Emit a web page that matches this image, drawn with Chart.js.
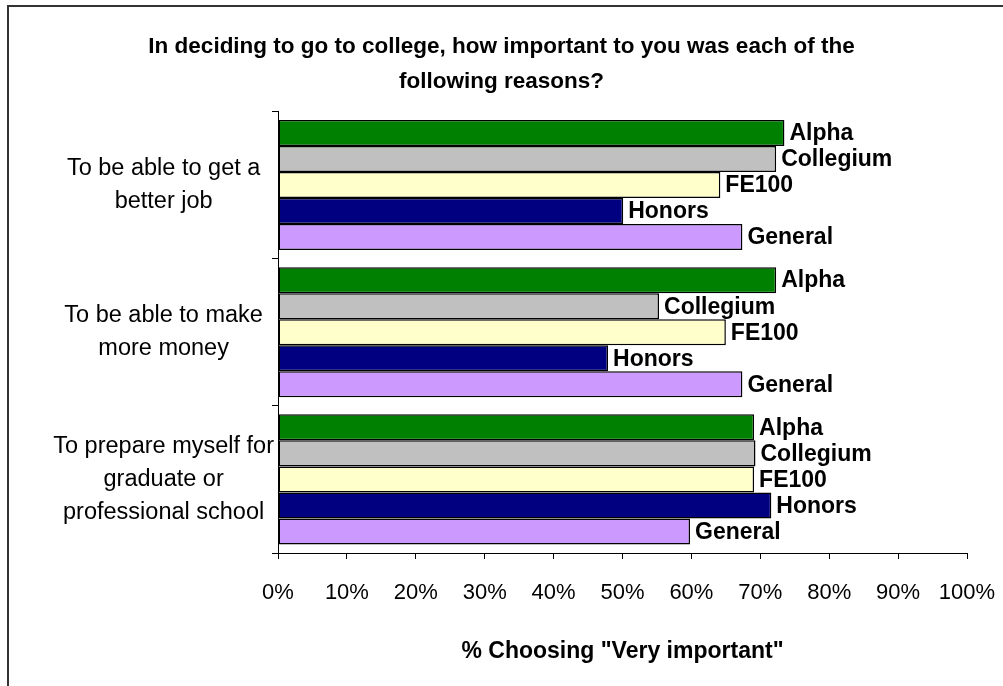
<!DOCTYPE html>
<html>
<head>
<meta charset="utf-8">
<title>Reasons for going to college</title>
<script src="https://cdn.jsdelivr.net/npm/chart.js@4/dist/chart.umd.min.js"></script>
<style>
    html, body { margin: 0; padding: 0; background: #fff; }
    #wrap { width: 1003px; height: 686px; position: relative; }
</style>
</head>
<body>
<div id="wrap"><canvas id="reasonChart" width="1003" height="686"></canvas></div>
<script>
// Chart data
const categories = [
    ['To be able to get a', 'better job'],
    ['To be able to make', 'more money'],
    ['To prepare myself for', 'graduate or', 'professional school']
];
const seriesNames = ['Alpha', 'Collegium', 'FE100', 'Honors', 'General'];
const alphaValues = [73.5, 72.3, 69.1];
const collegiumValues = [72.3, 55.3, 69.3];
const fe100Values = [64.2, 65.0, 69.1];
const honorsValues = [50.1, 47.9, 71.6];
const generalValues = [67.4, 67.4, 59.8];
const xTicks = [0, 10, 20, 30, 40, 50, 60, 70, 80, 90, 100];

const seriesColors = ['#008000', '#C0C0C0', '#FFFFCC', '#000080', '#CC99FF'];
const seriesValues = [alphaValues, collegiumValues, fe100Values, honorsValues, generalValues];

const FONT = 'Arial, "Liberation Sans", sans-serif';

// Frame round the chart (only top and left edges fall inside the picture)
const framePlugin = {
    id: 'frame',
    beforeDraw(chart) {
        const ctx = chart.ctx;
        ctx.save();
        ctx.fillStyle = '#fff';
        ctx.fillRect(0, 0, chart.width, chart.height);
        ctx.strokeStyle = '#333';
        ctx.lineWidth = 2;
        ctx.beginPath();
        ctx.moveTo(8, chart.height);
        ctx.lineTo(8, 6);
        ctx.lineTo(chart.width, 6);
        ctx.stroke();
        ctx.restore();
    }
};

// Series name written at the end of each bar
const barLabelPlugin = {
    id: 'barLabels',
    afterDatasetsDraw(chart) {
        const ctx = chart.ctx;
        ctx.save();
        ctx.font = 'bold 23px ' + FONT;
        ctx.fillStyle = '#000';
        ctx.textAlign = 'left';
        ctx.textBaseline = 'middle';
        chart.data.datasets.forEach((ds, i) => {
            chart.getDatasetMeta(i).data.forEach(bar => {
                ctx.fillText(ds.label, bar.x + 5, bar.y + 1);
            });
        });
        ctx.restore();
    }
};

const ctx = document.getElementById('reasonChart').getContext('2d');
new Chart(ctx, {
    type: 'bar',
    data: {
        labels: categories,
        datasets: seriesNames.map((name, i) => ({
            label: name,
            data: seriesValues[i],
            backgroundColor: seriesColors[i],
            borderColor: '#000',
            borderWidth: 1.5,
            borderSkipped: false,
            categoryPercentage: 0.884,
            barPercentage: 1.0
        }))
    },
    options: {
        indexAxis: 'y',
        responsive: false,
        animation: false,
        layout: { padding: 0 },
        plugins: {
            legend: { display: false },
            tooltip: { enabled: false },
            title: {
                display: true,
                text: [
                    'In deciding to go to college, how important to you was each of the',
                    'following reasons?'
                ],
                color: '#000',
                font: { family: FONT, size: 22.5, weight: 'bold', lineHeight: 1.52 },
                padding: { top: 30, bottom: 13 }
            }
        },
        scales: {
            x: {
                type: 'linear',
                min: 0,
                max: 100,
                afterBuildTicks: scale => { scale.ticks = xTicks.map(v => ({ value: v })); },
                afterFit: scale => {
                    scale.height = 133;
                    scale.paddingRight = 36; // plot ends at the same place as in the picture
                },
                grid: { drawOnChartArea: false, tickLength: 6, color: '#000', tickColor: '#000' },
                border: { color: '#000', width: 1 },
                ticks: {
                    color: '#000',
                    font: { family: FONT, size: 22 },
                    padding: 21,
                    maxRotation: 0,
                    callback: v => v + '%'
                },
                title: {
                    display: true,
                    text: '% Choosing "Very important"',
                    color: '#000',
                    font: { family: FONT, size: 23, weight: 'bold' },
                    padding: { top: 0, bottom: 21 }
                }
            },
            y: {
                afterFit: scale => { scale.width = 278; },
                grid: { drawOnChartArea: false, offset: true, tickLength: 6, color: '#000', tickColor: '#000' },
                border: { color: '#000', width: 1 },
                ticks: {
                    color: '#000',
                    font: { family: FONT, size: 23.5, lineHeight: 1.42 },
                    crossAlign: 'center',
                    padding: -2,
                    autoSkip: false
                }
            }
        }
    },
    plugins: [framePlugin, barLabelPlugin]
});
</script>
</body>
</html>
